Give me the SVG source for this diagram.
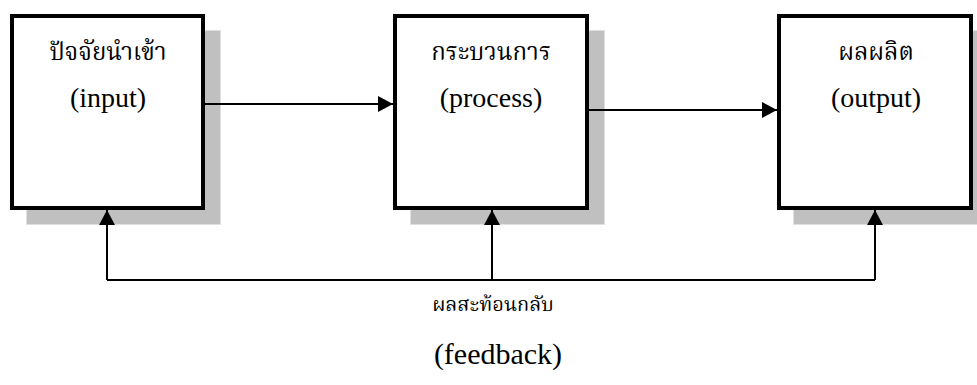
<svg xmlns="http://www.w3.org/2000/svg" width="977" height="385" viewBox="0 0 977 385">
  <style>
    .shadow { fill: #c0c0c0; stroke: #e0e0e0; stroke-width: 1; }
    .box { fill: #ffffff; stroke: #000000; stroke-width: 4; }
    .label { fill: #000000; text-anchor: middle; }
    .en { font-family: "Liberation Serif", "Times New Roman", serif; font-size: 28px; }
    .th { font-family: "Liberation Serif", "Noto Serif Thai", "Noto Sans Thai", serif; font-size: 24px; }
    .link { fill: none; stroke: #000000; stroke-width: 2; }
  </style>
  <defs>
    <marker id="arrow" markerUnits="userSpaceOnUse" markerWidth="16" markerHeight="16" viewBox="0 0 16 16" refX="15" refY="8" orient="auto">
      <path d="M0,0 L15,8 L0,16 Z" fill="#000000"/>
    </marker>
  </defs>

  <rect x="0" y="0" width="977" height="385" fill="#ffffff"/>

  <g id="node-input">
    <rect class="shadow" x="26.5" y="30.5" width="194" height="194"/>
    <rect class="box" x="12" y="16" width="191" height="192"/>
    <text class="label th" x="108" y="60">ปัจจัยนำเข้า</text>
    <text class="label en" x="108" y="107">(input)</text>
  </g>

  <g id="node-process">
    <rect class="shadow" x="410.5" y="30.5" width="194" height="194"/>
    <rect class="box" x="395" y="16" width="192" height="192"/>
    <text class="label th" x="491" y="60">กระบวนการ</text>
    <text class="label en" x="491" y="107">(process)</text>
  </g>

  <g id="node-output">
    <rect class="shadow" x="793.5" y="30.5" width="194" height="194"/>
    <rect class="box" x="779" y="16" width="192" height="192"/>
    <text class="label th" x="876" y="60">ผลผลิต</text>
    <text class="label en" x="876" y="107">(output)</text>
  </g>

  <g id="connectors">
    <line class="link" x1="205" y1="104" x2="393" y2="104" marker-end="url(#arrow)"/>
    <line class="link" x1="589" y1="110" x2="777" y2="110" marker-end="url(#arrow)"/>
    <polyline class="link" points="107,280 875,280"/>
    <line class="link" x1="107" y1="280" x2="107" y2="210" marker-end="url(#arrow)"/>
    <line class="link" x1="492" y1="280" x2="492" y2="210" marker-end="url(#arrow)"/>
    <line class="link" x1="875" y1="280" x2="875" y2="210" marker-end="url(#arrow)"/>
  </g>

  <g id="feedback-label">
    <text class="label th" x="493" y="311" style="font-size:20px">ผลสะท้อนกลับ</text>
    <text class="label en" x="498" y="364" style="font-size:30px">(feedback)</text>
  </g>
</svg>
